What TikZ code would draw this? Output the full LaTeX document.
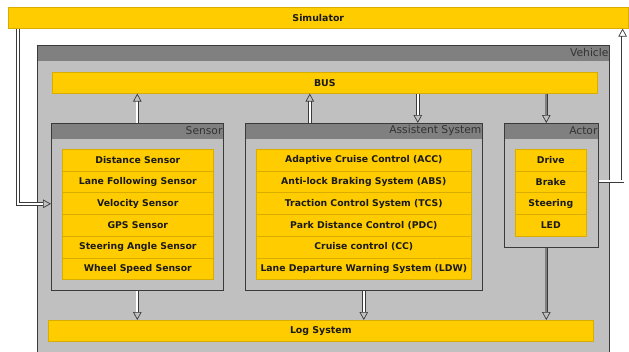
\documentclass[tikz,border=0pt]{standalone}
\usepackage{fontspec}
\setmainfont{DejaVu Sans}
\usetikzlibrary{arrows.meta,calc}

\definecolor{ybar}{HTML}{FFCC00}
\definecolor{yedge}{HTML}{D9AD00}
\definecolor{panel}{HTML}{C0C0C0}
\definecolor{headr}{HTML}{808080}
\definecolor{frame}{HTML}{3A3A3A}
\definecolor{ink}{HTML}{1A1A1A}

\tikzset{
  bar/.style={fill=ybar, draw=yedge, line width=0.6pt, inner sep=0pt,
    anchor=north west, font=\fontsize{9.4}{11}\selectfont\bfseries, text=ink},
  item/.style={bar, font=\fontsize{9.3}{11}\selectfont\bfseries},
  container/.style={fill=panel, draw=frame, line width=0.6pt, inner sep=0pt, anchor=north west},
  headlabel/.style={anchor=east, inner sep=0pt, text=black!80,
    font=\fontsize{10.7}{12}\selectfont},
  dbl/.style={draw=frame, line width=0.8pt, double=white, double distance=1.8pt,
    -{Triangle[open, length=8pt, width=8.5pt, line width=0.7pt]}},
  dblg/.style={dbl, double=headr},
}

% draw a container box with a dark header strip and a right-aligned title
\newcommand{\panelbox}[6]{% name, x, y, width, height, title
  \node[container, minimum width=#4pt, minimum height=#5pt] (#1) at (#2,#3) {};
  \fill[headr] ([shift={(0.3pt,-0.3pt)}]#1.north west) rectangle ([shift={(-0.3pt,-15.5pt)}]#1.north east);
  \draw[frame, line width=0.6pt] (#1.north west) rectangle (#1.south east);
  \node[headlabel] (#1-title) at ([shift={(-1pt,-8pt)}]#1.north east) {#6};
}

\begin{document}
\begin{tikzpicture}[x=1pt, y=-1pt]
  \useasboundingbox (0,0) rectangle (629,351);
  \clip (0,0) rectangle (629,351);
  \fill[white] (0,0) rectangle (629,351);

  % top-level simulator bar
  \node[bar, minimum width=620pt, minimum height=21pt] (sim) at (8,7) {Simulator};

  % vehicle frame
  \panelbox{vehicle}{37}{45}{572}{320}{Vehicle}

  % bus and log
  \node[bar, minimum width=545pt, minimum height=21pt] (bus) at (52,72) {BUS};
  \node[bar, minimum width=545pt, minimum height=21pt] (log) at (48,320) {Log System};

  % sensor group
  \panelbox{sensor}{51}{123}{172}{167}{Sensor}
  \foreach \t [count=\i from 0] in {Distance Sensor, Lane Following Sensor, Velocity Sensor,
      GPS Sensor, Steering Angle Sensor, Wheel Speed Sensor}
    \node[item, minimum width=151pt, minimum height=21.7pt] (s\i) at (62,149+21.7*\i) {\t};

  % assistance systems
  \panelbox{assist}{245}{123}{237}{167}{Assistent System}
  \foreach \t [count=\i from 0] in {Adaptive Cruise Control (ACC), Anti-lock Braking System (ABS),
      Traction Control System (TCS), Park Distance Control (PDC), Cruise control (CC),
      Lane Departure Warning System (LDW)}
    \node[item, minimum width=215pt, minimum height=21.7pt] (a\i) at (256,149+21.7*\i) {\t};

  % actors
  \panelbox{actor}{504}{123}{94}{124}{Actor}
  \foreach \t [count=\i from 0] in {Drive, Brake, Steering, LED}
    \node[item, minimum width=71pt, minimum height=21.7pt] (c\i) at (515,149+21.7*\i) {\t};

  % bus connections
  \draw[dbl] (sensor.north) -- (sensor.north |- bus.south);
  \draw[dbl] ([xshift=-54pt]assist.north) -- ([xshift=-54pt]assist.north |- bus.south);
  \draw[dbl] ([xshift=54pt]assist.north |- bus.south) -- ([xshift=54pt]assist.north);
  \draw[dblg] ([xshift=-5pt]actor.north |- bus.south) -- ([xshift=-5pt]actor.north);

  % logging
  \draw[dbl] (sensor.south) -- (sensor.south |- log.north);
  \draw[dbl] (assist.south) -- (assist.south |- log.north);
  \draw[dblg] ([xshift=-5pt]actor.south) -- ([xshift=-5pt]actor.south |- log.north);

  % simulator loop
  \draw[dbl] ([xshift=10pt]sim.south west) |- ([yshift=3pt]sensor.west);
  \draw[dbl] ([yshift=4pt]actor.east) -| ([xshift=-6pt]sim.south east);
\end{tikzpicture}
\end{document}
